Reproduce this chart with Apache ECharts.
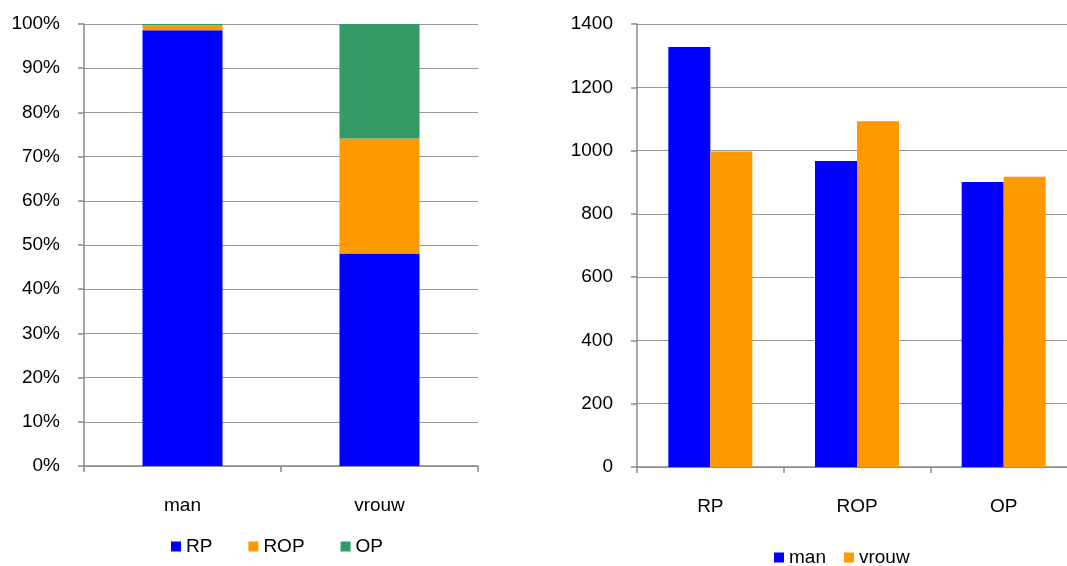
<!DOCTYPE html>
<html>
<head>
<meta charset="utf-8">
<title>RP / ROP / OP naar geslacht</title>
<script src="https://cdn.jsdelivr.net/npm/echarts@6/dist/echarts.min.js"></script>
<style>
  html, body { margin: 0; padding: 0; background: #fff; overflow: hidden; width: 1067px; height: 566px; }
  /* canvas is a little wider than the page: the right panel runs past the edge */
  #chart { width: 1090px; height: 566px; }
</style>
</head>
<body>
<div id="chart"></div>
<script>
// Left panel: share per gender (percent, stacked to 100%)
const genders = ['man', 'vrouw'];
const shareRP = [98.6, 48.1];
const shareROP = [1.1, 26.0];
const shareOP = [0.3, 25.9];

// Right panel: absolute counts per category
const groups = ['RP', 'ROP', 'OP'];
const countMan = [1327, 967, 901];
const countVrouw = [997, 1093, 917];

const BLUE = '#0000FF';
const ORANGE = '#FF9900';
const GREEN = '#339966';
const FONT = 'Liberation Sans, Arial, sans-serif';
const TXT = '#000';
const AXIS = '#8a8a8a';
const GRID = '#9a9a9a';

const axisLineStyle = { show: true, lineStyle: { color: AXIS, width: 1.5 } };
const tickStyle = { show: true, length: 6, lineStyle: { color: AXIS, width: 1.5 } };
const labelStyle = { color: TXT, fontSize: 19, fontFamily: FONT };

const chart = echarts.init(document.getElementById('chart'), null, { renderer: 'canvas' });

chart.setOption({
  animation: false,
  backgroundColor: '#fff',
  textStyle: { fontFamily: FONT },
  grid: [
    { left: 84, top: 24, width: 394, height: 442 },
    { left: 637, top: 24, width: 440, height: 443 }
  ],
  legend: [
    {
      data: ['RP', 'ROP', 'OP'],
      left: 171, top: 537, padding: 0,
      icon: 'rect', itemWidth: 10, itemHeight: 10,
      itemGap: 36,
      textStyle: { color: TXT, fontSize: 19, fontFamily: FONT }
    },
    {
      data: ['man', 'vrouw'],
      left: 774, top: 548, padding: 0,
      icon: 'rect', itemWidth: 10, itemHeight: 10,
      itemGap: 18,
      textStyle: { color: TXT, fontSize: 19, fontFamily: FONT }
    }
  ],
  xAxis: [
    {
      type: 'category', gridIndex: 0, data: genders,
      axisLine: axisLineStyle, axisTick: tickStyle,
      axisLabel: Object.assign({ margin: 30 }, labelStyle)
    },
    {
      type: 'category', gridIndex: 1, data: groups,
      axisLine: axisLineStyle, axisTick: tickStyle,
      axisLabel: Object.assign({ margin: 30 }, labelStyle)
    }
  ],
  yAxis: [
    {
      type: 'value', gridIndex: 0, min: 0, max: 100, interval: 10,
      axisLine: axisLineStyle, axisTick: tickStyle,
      axisLabel: Object.assign({ margin: 24, formatter: function (v) { return v + '%'; } }, labelStyle),
      splitLine: { show: true, lineStyle: { color: GRID, width: 1 } }
    },
    {
      type: 'value', gridIndex: 1, min: 0, max: 1400, interval: 200,
      axisLine: axisLineStyle, axisTick: tickStyle,
      axisLabel: Object.assign({ margin: 24, formatter: function (v) { return String(v); } }, labelStyle),
      splitLine: { show: true, lineStyle: { color: GRID, width: 1 } }
    }
  ],
  series: [
    { name: 'RP', type: 'bar', stack: 'aandeel', xAxisIndex: 0, yAxisIndex: 0,
      barWidth: 80, data: shareRP, itemStyle: { color: BLUE } },
    { name: 'ROP', type: 'bar', stack: 'aandeel', xAxisIndex: 0, yAxisIndex: 0,
      barWidth: 80, data: shareROP, itemStyle: { color: ORANGE } },
    { name: 'OP', type: 'bar', stack: 'aandeel', xAxisIndex: 0, yAxisIndex: 0,
      barWidth: 80, data: shareOP, itemStyle: { color: GREEN } },

    { name: 'man', type: 'bar', xAxisIndex: 1, yAxisIndex: 1,
      barWidth: 42, barGap: '0%', data: countMan, itemStyle: { color: BLUE } },
    { name: 'vrouw', type: 'bar', xAxisIndex: 1, yAxisIndex: 1,
      barWidth: 42, barGap: '0%', data: countVrouw, itemStyle: { color: ORANGE } }
  ]
});
</script>
</body>
</html>
